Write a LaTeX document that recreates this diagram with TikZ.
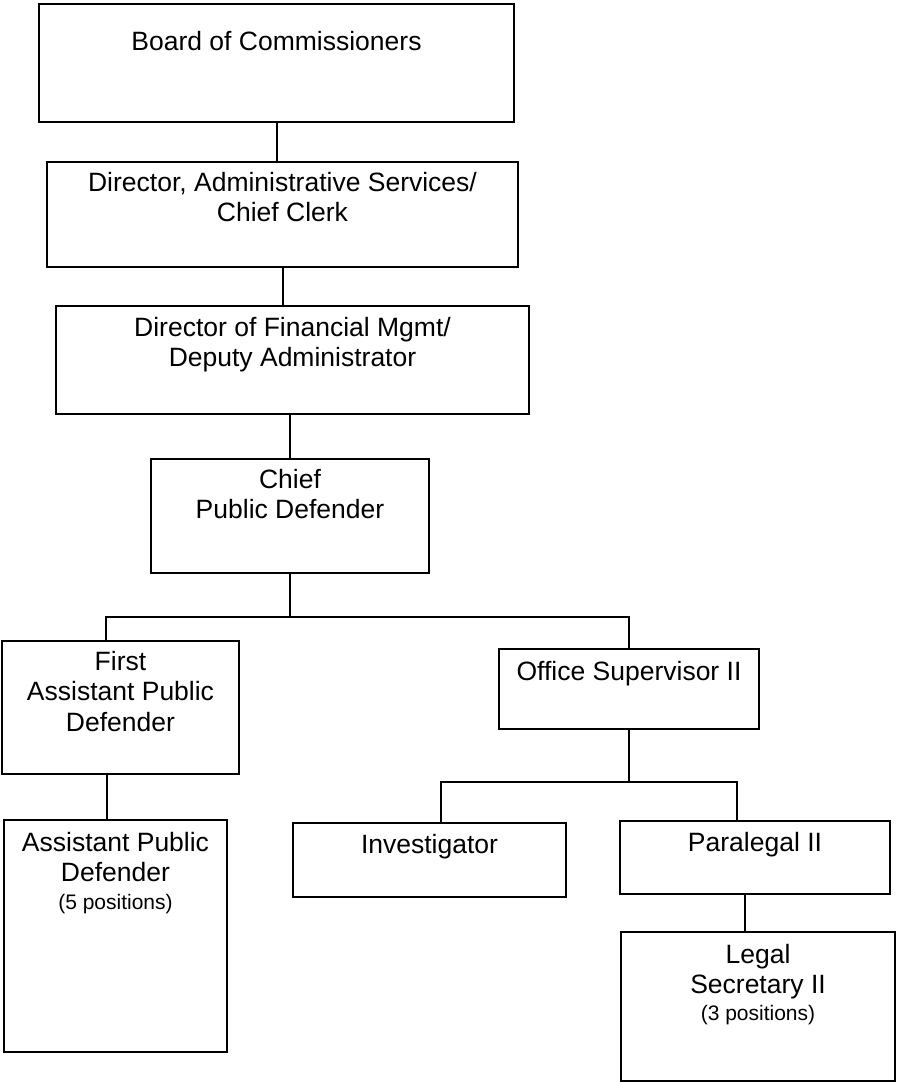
\documentclass[tikz,border=0pt]{standalone}
\usepackage{fontspec}
\setmainfont{Liberation Sans}
\begin{document}
\begin{tikzpicture}[x=1pt,y=-1pt,
  box/.style={draw, line width=1.9pt, rectangle, inner sep=0pt},
  lbl/.style={anchor=north, align=center, inner sep=0pt, font=\fontsize{26.5}{30.5}\selectfont},
  conn/.style={line width=2pt}]
\useasboundingbox (0,0) rectangle (897,1083);
\fill[white] (0,0) rectangle (897,1083);
% boxes
\node[box, minimum width=475pt, minimum height=118pt] (b1) at (276.5,63) {};
\node[box, minimum width=471pt, minimum height=105pt] (b2) at (282.5,214.5) {};
\node[box, minimum width=473pt, minimum height=108pt] (b3) at (292.5,360) {};
\node[box, minimum width=278pt, minimum height=114pt] (b4) at (290,516) {};
\node[box, minimum width=237pt, minimum height=133pt] (b5) at (120.5,707.5) {};
\node[box, minimum width=260pt, minimum height=80pt] (b6) at (629,689) {};
\node[box, minimum width=273pt, minimum height=74pt] (b7) at (429.5,860) {};
\node[box, minimum width=270pt, minimum height=73pt] (b8) at (755,857.5) {};
\node[box, minimum width=223pt, minimum height=232pt] (b9) at (115.5,936) {};
\node[box, minimum width=274pt, minimum height=149pt] (b10) at (758,1006.5) {};
% labels
\node[lbl] (t1) at ([yshift=-28pt]b1.north) {Board of Commissioners};
\node[lbl] (t2) at ([yshift=-11pt]b2.north) {Director, Administrative Services/\\Chief Clerk};
\node[lbl] (t3) at ([yshift=-12pt]b3.north) {Director of Financial Mgmt/\\Deputy Administrator};
\node[lbl] (t4) at ([yshift=-11pt]b4.north) {Chief\\Public Defender};
\node[lbl] (t5) at ([yshift=-11pt]b5.north) {First\\Assistant Public\\Defender};
\node[lbl] (t6) at ([yshift=-13pt]b6.north) {Office Supervisor II};
\node[lbl] (t7) at ([yshift=-12pt]b7.north) {Investigator};
\node[lbl] (t8) at ([yshift=-12pt]b8.north) {Paralegal II};
\node[lbl] (t9) at ([yshift=-13pt]b9.north) {Assistant Public\\Defender\\[-3pt]{\fontsize{21}{24}\selectfont (5 positions)}};
\node[lbl] (t10) at ([yshift=-13pt]b10.north) {Legal\\Secretary II\\[-4pt]{\fontsize{21}{24}\selectfont (3 positions)}};
% connectors
\coordinate (j1L) at (106,617);
\coordinate (j1R) at (b6.north |- j1L);
\coordinate (c5) at (107,0);
\coordinate (j2L) at (441,782);
\coordinate (j2R) at (737,782);
\coordinate (c8) at (745,0);
\draw[conn] (b1.south) -- (b1.south |- b2.north);
\draw[conn] (b2.south) -- (b2.south |- b3.north);
\draw[conn] (b4.north |- b3.south) -- (b4.north);
\draw[conn] (b4.south) -- (b4.south |- j1L);
\draw[conn] (b5.north -| j1L) -- (j1L) -- (j1R) -- (b6.north);
\draw[conn] (b5.south -| c5) -- (b9.north -| c5);
\draw[conn] (b6.south) -- (b6.south |- j2L);
\draw[conn] (b7.north -| j2L) -- (j2L) -- (j2R) -- (b8.north -| j2R);
\draw[conn] (b8.south -| c8) -- (b10.north -| c8);
\end{tikzpicture}
\end{document}
